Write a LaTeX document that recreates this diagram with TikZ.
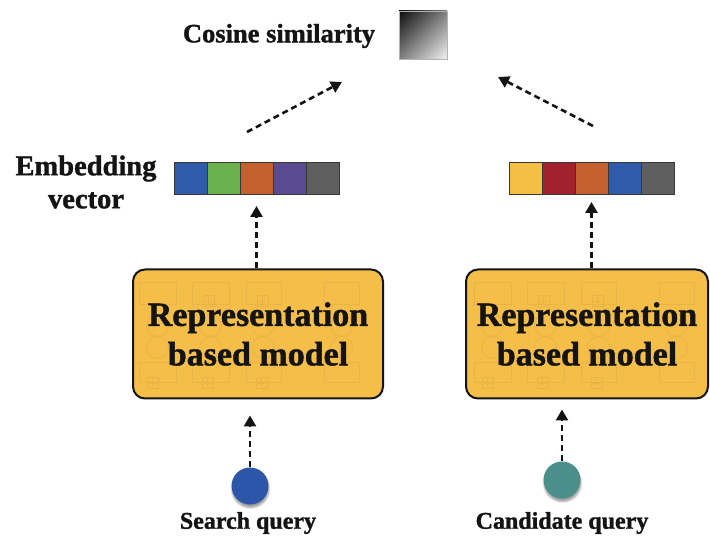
\documentclass[tikz,border=0pt]{standalone}
\usepackage{fontspec}
\setmainfont{Liberation Serif}[BoldFeatures={FakeBold=1.3}]
\usetikzlibrary{arrows.meta,shadows.blur,shadings}
\definecolor{ink}{HTML}{141414}
\definecolor{boxyellow}{HTML}{F4BE48}
\definecolor{patt}{HTML}{E8B447}
\definecolor{cblue}{HTML}{2F5BAA}
\definecolor{cgreen}{HTML}{6AB04C}
\definecolor{corange}{HTML}{C4602D}
\definecolor{cpurple}{HTML}{5A4A8F}
\definecolor{cgray}{HTML}{5F5F5F}
\definecolor{cred}{HTML}{A3202F}
\definecolor{cyellow}{HTML}{F5BE45}
\definecolor{qblue}{HTML}{2E56A8}
\definecolor{qteal}{HTML}{4A8F8A}
\newcommand\modelpattern{%
  \foreach \cx/\cw in {7/37,60/37,114/35,192/35}{
    \draw[faint] (\cx,14) rectangle ++(\cw,22);
    \draw[faint] (\cx,94) rectangle ++(\cw,20);
    \draw[faint] ({\cx+\cw/2},57) circle (11);
    \draw[faint] ({\cx+\cw/2},79) circle (11);
  }
  \foreach \px/\py in {71/27,125/27,15/109,70/109,124/109}{
    \draw[faint] (\px,\py) rectangle ++(11,11);
    \draw[faint] ({\px+5.5},{\py+2}) -- ++(0,7);
    \draw[faint] ({\px+2},{\py+5.5}) -- ++(7,0);
  }%
}
\begin{document}
\begin{tikzpicture}[x=1pt,y=-1pt,
  model/.style={draw=ink, line width=2pt, fill=boxyellow, rounded corners=12pt,
    inner sep=0pt, minimum height=129pt},
  modeltext/.style={align=center, text=ink, inner sep=0pt,
    font=\bfseries\fontsize{34}{39.5}\selectfont},
  faint/.style={draw=patt, line width=0.8pt},
  cell/.style={draw=ink!85, line width=0.8pt, minimum width=33pt, minimum height=32pt,
    inner sep=0pt, outer sep=0pt},
  lbl/.style={text=ink, align=center, inner sep=0pt},
  query/.style={circle, minimum size=37pt, inner sep=0pt,
    blur shadow={shadow xshift=0.5pt, shadow yshift=-3pt, shadow blur steps=6, shadow opacity=40}},
  flow/.style={draw=ink, line width=2.6pt, dash pattern=on 6pt off 4pt,
    -{Triangle[length=11pt,width=12pt]}}
]
\useasboundingbox (0,0) rectangle (710,537);

% title
\node[lbl, font=\bfseries\fontsize{26.5}{30}\selectfont] (cos) at (279,36) {Cosine similarity};
\node[draw=gray!60, line width=0.8pt, minimum size=48pt, inner sep=0pt,
  upper left=black!95, lower right=black!5, upper right=black!50, lower left=black!50] (sq) at (423,35) {};

% top arrows
\coordinate (la1) at (247,132);
\coordinate (la2) at (342,82);
\coordinate (ra1) at (593,126);
\coordinate (ra2) at (498,77);
\draw[flow] (la1) -- (la2);
\draw[flow] (ra1) -- (ra2);

% embedding label
\node[lbl, font=\bfseries\fontsize{28.5}{33}\selectfont] (emb) at (86,182) {Embedding\\vector};

% left vector
\node[cell, fill=cblue]   (lv1) at (190.5,178) {};
\node[cell, fill=cgreen]  (lv2) at (223.5,178) {};
\node[cell, fill=corange] (lv3) at (256.5,178) {};
\node[cell, fill=cpurple] (lv4) at (289.5,178) {};
\node[cell, fill=cgray]   (lv5) at (322.5,178) {};

% right vector
\node[cell, fill=cyellow] (rv1) at (525.5,178) {};
\node[cell, fill=cred]    (rv2) at (558.5,178) {};
\node[cell, fill=corange] (rv3) at (591.5,178) {};
\node[cell, fill=cblue]   (rv4) at (624.5,178) {};
\node[cell, fill=cgray]   (rv5) at (657.5,178) {};

% models
\node[model, minimum width=250pt] (lbox) at (258,334) {};
\node[model, minimum width=242pt] (rbox) at (587,334) {};
\begin{scope}[shift={(lbox.north west)}]
  \modelpattern
\end{scope}
\begin{scope}[shift={(rbox.north west)}, xshift=2pt]
  \modelpattern
\end{scope}
\node[modeltext] (lboxt) at (lbox.center) {Representation\\based model};
\node[modeltext] (rboxt) at (rbox.center) {Representation\\based model};

% model -> vector arrows
\draw[flow, shorten >=12pt] (lbox.north -| lv3) -- (lv3.south);
\draw[flow, shorten >=8pt] (rbox.north -| rv3) -- (rv3.south);

% queries
\node[query, fill=qblue] (lq) at (250,486) {};
\node[query, fill=qteal] (rq) at (562,480) {};
\node[lbl, font=\bfseries\fontsize{24}{28}\selectfont] (ls) at (248,523) {Search query};
\node[lbl, font=\bfseries\fontsize{24}{28}\selectfont] (rs) at (562,523) {Candidate query};

% query -> model arrows
\draw[flow, shorten >=16pt] (lq.north) -- (lq.north |- lbox.south);
\draw[flow, shorten >=10pt] (rq.north) -- (rq.north |- rbox.south);
\end{tikzpicture}
\end{document}
